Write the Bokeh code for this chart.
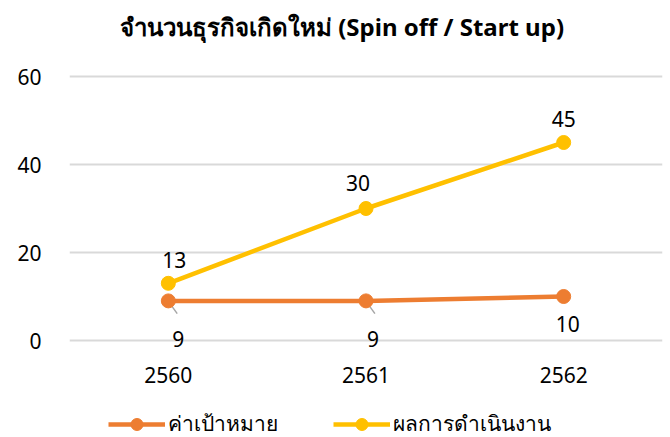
from bokeh.plotting import figure
from bokeh.models import (ColumnDataSource, FactorRange, Range1d, FixedTicker,
                          LabelSet, Label, Legend, LegendItem)
from bokeh.core.properties import value
from bokeh.embed import file_html
from bokeh.resources import INLINE

title_text = "จำนวนธุรกิจเกิดใหม่ (Spin off / Start up)"
years = ["2560", "2561", "2562"]
target = [9, 9, 10]          # ค่าเป้าหมาย
actual = [13, 30, 45]        # ผลการดำเนินงาน
series_names = ["ค่าเป้าหมาย", "ผลการดำเนินงาน"]
y_ticks = [0, 20, 40, 60]

FONT = "Noto Sans"
ORANGE = "#ED7D31"
GOLD = "#FFC000"
FS = "21px"

# ---- layout geometry (pixels) ----
W, H = 668, 437
F_LEFT, F_RIGHT, F_BOTTOM_BORDER = 69, 6, 0
PX_PER_UNIT = 4.4
TOP_GRID_PX = 76                      # where the top tick sits from canvas top
frame_h = H - F_BOTTOM_BORDER
y_end = max(y_ticks) + TOP_GRID_PX / PX_PER_UNIT
y_start = y_end - frame_h / PX_PER_UNIT

p = figure(width=W, height=H, x_range=FactorRange(*years),
           y_range=Range1d(y_start, y_end), output_backend="svg", toolbar_location=None,
           title=None, min_border_left=F_LEFT, min_border_right=F_RIGHT,
           min_border_top=0, min_border_bottom=F_BOTTOM_BORDER)

p.outline_line_color = None
p.xgrid.grid_line_color = None
p.ygrid.grid_line_color = "#D9D9D9"
p.ygrid.grid_line_width = 2
p.yaxis.ticker = FixedTicker(ticks=y_ticks)

for ax in (p.xaxis, p.yaxis):
    ax.axis_line_color = None
    ax.major_tick_line_color = None
    ax.minor_tick_line_color = None
    ax.major_tick_in = 0
    ax.major_tick_out = 0
    ax.major_label_text_font = FONT
    ax.major_label_text_font_size = FS
    ax.major_label_text_color = "#000000"
p.yaxis.major_label_standoff = 28
# category labels sit just under the 0 line, above the legend
p.xaxis.major_label_standoff = -(frame_h - 366)

# title
p.add_layout(Label(x=1.5, y=y_end, x_offset=-24, y_offset=-26, text=title_text,
                   text_align="center", text_baseline="middle", text_font=FONT,
                   text_font_size="24px", text_font_style="bold", text_color="#000000"))

src_t = ColumnDataSource(dict(x=years, y=target, lbl=[str(v) for v in target],
                              dx=[10, 7, 4], dy=[-38, -38, -27]))
src_a = ColumnDataSource(dict(x=years, y=actual, lbl=[str(v) for v in actual],
                              dx=[6, -8, 0], dy=[23, 26, 24]))

# leader lines from the target markers to their labels
lead = ColumnDataSource(dict(x0=[(y, 0.005) for y in years[:2]],
                             y0=[v - 0.4 for v in target[:2]],
                             x1=[(y, 0.045) for y in years[:2]],
                             y1=[v - 2.9 for v in target[:2]]))
p.segment("x0", "y0", "x1", "y1", source=lead, line_color="#A6A6A6", line_width=1.5)

lt = p.line("x", "y", source=src_t, line_color=ORANGE, line_width=4.5)
mt = p.scatter("x", "y", source=src_t, size=14, fill_color=ORANGE, line_color=ORANGE)
la = p.line("x", "y", source=src_a, line_color=GOLD, line_width=4.5)
ma = p.scatter("x", "y", source=src_a, size=14, fill_color=GOLD, line_color=GOLD)

for src in (src_t, src_a):
    p.add_layout(LabelSet(x="x", y="y", text="lbl", source=src, x_offset="dx", y_offset="dy",
                          text_align="center", text_baseline="middle", text_font=value(FONT),
                          text_font_size=FS, text_color="#000000"))

legend = Legend(items=[LegendItem(label=series_names[0], renderers=[lt, mt]),
                       LegendItem(label=series_names[1], renderers=[la, ma])],
                orientation="horizontal", location=(39, -3), border_line_color=None,
                background_fill_alpha=0, label_text_font=FONT, label_text_font_size=FS,
                label_text_color="#000000", glyph_width=57, glyph_height=30,
                label_height=30, label_standoff=3, spacing=55, padding=0, margin=0)
p.add_layout(legend, "center")

open("out.html", "w").write(file_html(p, INLINE))
